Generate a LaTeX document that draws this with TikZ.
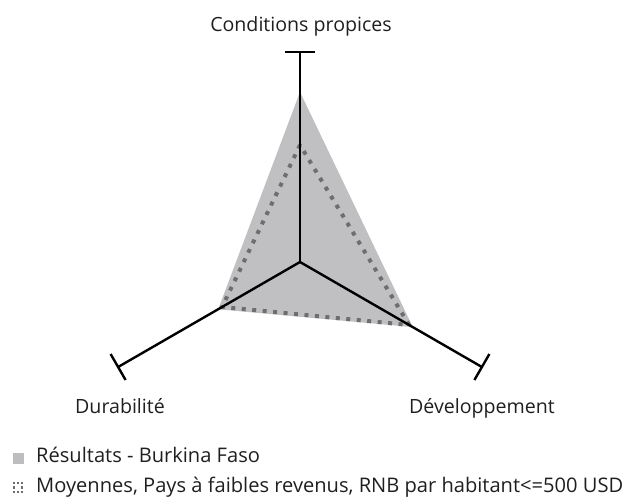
\documentclass[tikz,border=0pt]{standalone}
\usepackage{fontspec}
\setmainfont{Open Sans}
\begin{document}
\begin{tikzpicture}[x=1pt,y=-1pt,
  axisline/.style={line width=2.4pt,black},
  lbl/.style={font=\fontsize{19.6}{22}\selectfont,text=black!88,inner sep=0pt,anchor=base},
  leglbl/.style={font=\fontsize{20.1}{22}\selectfont,text=black!88,inner sep=0pt,anchor=base west},
  avgline/.style={line width=4pt,color={rgb,255:red,110;green,110;blue,112},dash pattern=on 4pt off 6.5pt},
  dotmark/.style={fill={rgb,255:red,110;green,110;blue,112}}]
\useasboundingbox (0,0) rectangle (627,503);
\coordinate (o) at (300,262);
\coordinate (t) at (300,52);
\coordinate (l) at (118.1,367);
\coordinate (r) at (481.9,367);
% result polygon
\fill[color={rgb,255:red,192;green,192;blue,194}] (300,92) -- (218.2,309.3) -- (412.8,327.1) -- cycle;
% average polygon
\draw[avgline] (300,145) -- (222.1,307) -- (409.1,325) -- cycle;
% axes
\draw[axisline] (o) -- (t);
\draw[axisline] (o) -- (l);
\draw[axisline] (o) -- (r);
\draw[axisline] (285,52) -- (315,52);
\draw[axisline] (110.6,354) -- (125.6,380);
\draw[axisline] (489.4,354) -- (474.4,380);
% labels
\node[lbl] (lt) at (301,31.5) {Conditions propices};
\node[lbl] (ll) at (120,413) {Durabilité};
\node[lbl] (lr) at (482,413) {Développement};
% legend
\fill[color={rgb,255:red,189;green,189;blue,191}] (13,453) rectangle (24,464);
\node[leglbl] (leg1) at (36,462) {Résultats - Burkina Faso};
\foreach \i/\j in {0/0,1/0,2/0,0/1,2/1,0/2,1/2,2/2}{
  \fill[dotmark] (13+\i*4,482+\j*4.3) rectangle ++(2.2,2.2);}
\node[leglbl] (leg2) at (36,492.5) {Moyennes, Pays à faibles revenus, RNB par habitant<=500 USD};
\end{tikzpicture}
\end{document}
